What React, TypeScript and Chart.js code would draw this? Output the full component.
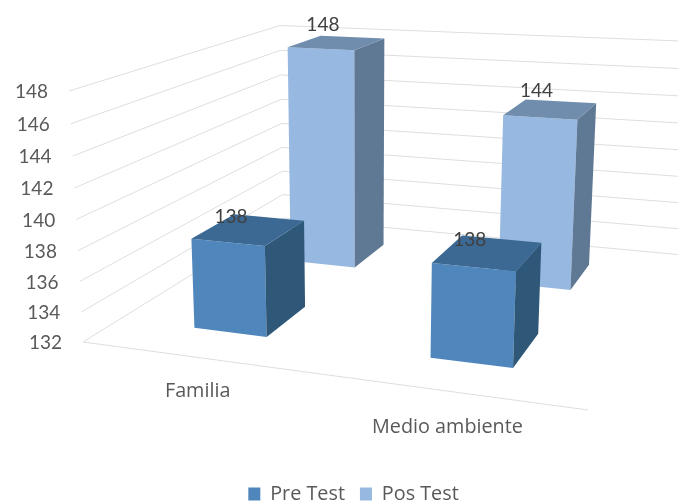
import React, { useEffect, useRef } from "react";
import { Chart, registerables } from "chart.js";

Chart.register(...registerables);

const categories = ["Familia", "Medio ambiente"];
const seriesNames = ["Pre Test", "Pos Test"];
const preTest = [138, 138];
const posTest = [148, 144];
const yMin = 132;
const yMax = 148;
const yStep = 2;

const FACE = [
  { front: "#4f87bd", top: "#3c6994", side: "#2f5778" },
  { front: "#97b8e1", top: "#708dae", side: "#5f7893" },
];
const TEXT = "#595959";
const GRID = "#dedede";
const TICK_FONT = "19px Lato, sans-serif";
const LABEL_FAMILY = "'Open Sans', sans-serif";
const LABEL_SIZE = 19.8;

// Perspective frame of the 3-D box: u runs along the categories, v into depth, h up the value axis.
const O = [83, 342];
const U = [588, 410];
const V = [283, 218];
const W = [69, 91];
const wu = 0.87;
const wv = 1.32;
const wh = 0.9524;

function project(u: number, v: number, h: number): [number, number] {
  const d = 1 + u * (wu - 1) + v * (wv - 1) + h * (wh - 1);
  const f = (i: number) =>
    O[i] + u * (wu * U[i] - O[i]) + v * (wv * V[i] - O[i]) + h * (wh * W[i] - O[i]);
  return [f(0) / d, f(1) / d];
}

function poly(ctx: CanvasRenderingContext2D, pts: [number, number][], fill: string) {
  ctx.beginPath();
  pts.forEach((p, i) => (i ? ctx.lineTo(p[0], p[1]) : ctx.moveTo(p[0], p[1])));
  ctx.closePath();
  ctx.fillStyle = fill;
  ctx.fill();
}

const box3d = {
  id: "box3d",
  beforeDatasetsDraw(chart: any) {
    const { ctx, chartArea: a, scales } = chart;
    const norm = (py: number) => (a.bottom - py) / (a.bottom - a.top);
    const normU = (px: number) => (px - a.left) / (a.right - a.left);
    ctx.save();

    // walls, floor and value labels
    ctx.lineWidth = 1;
    ctx.strokeStyle = GRID;
    ctx.font = TICK_FONT;
    ctx.textBaseline = "middle";
    scales.y.ticks.forEach((t: any) => {
      const h = norm(scales.y.getPixelForValue(t.value));
      const p0 = project(0, 0, h);
      const p1 = project(0, 1, h);
      const p2 = project(1.05, 1, h);
      ctx.beginPath();
      ctx.moveTo(p0[0], p0[1]);
      ctx.lineTo(p1[0], p1[1]);
      ctx.lineTo(p2[0], p2[1]);
      ctx.stroke();
      ctx.fillStyle = TEXT;
      ctx.textAlign = "right";
      ctx.fillText(String(t.value), p0[0] - 21, p0[1] + 1);
    });
    const f0 = project(0, 0, 0);
    const f1 = project(1, 0, 0);
    ctx.beginPath();
    ctx.moveTo(f0[0], f0[1]);
    ctx.lineTo(f1[0], f1[1]);
    ctx.stroke();

    // category labels
    ctx.textAlign = "center";
    ctx.fillStyle = TEXT;
    ctx.font = `${LABEL_SIZE}px ${LABEL_FAMILY}`;
    categories.forEach((c, i) => {
      const p = project(normU(scales.x.getPixelForValue(i)), 0, -0.14);
      ctx.fillText(c, p[0], p[1]);
    });

    // bars, back series first
    const n = chart.data.datasets.length;
    for (let s = n - 1; s >= 0; s--) {
      const meta = chart.getDatasetMeta(s);
      const vc = (s + 0.5) / n;
      const dv = 0.1;
      meta.data.forEach((el: any) => {
        const uc = normU(el.x);
        const du = el.width / 2 / (a.right - a.left);
        const h = norm(el.y);
        const b = norm(Math.min(el.base, a.bottom));
        const u0 = uc - du, u1 = uc + du, v0 = vc - dv, v1 = vc + dv;
        const c = FACE[s];
        poly(ctx, [project(u0, v0, h), project(u1, v0, h), project(u1, v0, b), project(u0, v0, b)], c.front);
        poly(ctx, [project(u1, v0, h), project(u1, v1, h), project(u1, v1, b), project(u1, v0, b)], c.side);
        poly(ctx, [project(u0, v0, h), project(u0, v1, h), project(u1, v1, h), project(u1, v0, h)], c.top);
      });
    }
    // data labels on the tops
    ctx.fillStyle = "#404040";
    ctx.font = TICK_FONT;
    ctx.textAlign = "center";
    for (let s = n - 1; s >= 0; s--) {
      const meta = chart.getDatasetMeta(s);
      const vc = (s + 0.5) / n;
      meta.data.forEach((el: any, i: number) => {
        const p = project(normU(el.x), vc, norm(el.y));
        ctx.fillText(String(chart.data.datasets[s].data[i]), p[0] - 18 + 4 * s, p[1] - 13 - 5 * s);
      });
    }
    ctx.restore();
    return false;
  },
};

export default function App() {
  const ref = useRef<HTMLCanvasElement>(null);
  useEffect(() => {
    const chart = new Chart(ref.current as HTMLCanvasElement, {
      type: "bar",
      data: {
        labels: categories,
        datasets: [
          { label: seriesNames[0], data: preTest, backgroundColor: FACE[0].front },
          { label: seriesNames[1], data: posTest, backgroundColor: FACE[1].front },
        ],
      },
      options: {
        animation: false,
        responsive: false,
        layout: { padding: { left: 29, right: 0, top: 10, bottom: -12 } },
        datasets: { bar: { categoryPercentage: 1, barPercentage: 0.32 } },
        scales: {
          x: { display: false, stacked: true, offset: true },
          y: { display: false, stacked: false, min: yMin, max: yMax, ticks: { stepSize: yStep } },
        },
        plugins: {
          tooltip: { enabled: false },
          legend: {
            position: "bottom",
            labels: {
              boxWidth: 12,
              boxHeight: 13,
              padding: 15,
              color: TEXT,
              font: { family: LABEL_FAMILY, size: LABEL_SIZE },
            },
          },
        },
      },
      plugins: [box3d],
    } as any);
    return () => chart.destroy();
  }, []);
  return (
    <canvas
      ref={ref}
      width={678}
      height={502}
      style={{ position: "absolute", left: 0, top: 0, filter: "blur(0.4px)" }}
    />
  );
}
